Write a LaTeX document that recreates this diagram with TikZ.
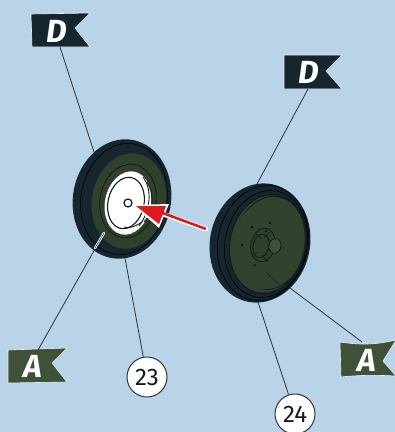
\documentclass[tikz,border=0pt]{standalone}
\usepackage{fontspec}
\setmainfont{Fira Sans}
\definecolor{bgc}{HTML}{B9D3E8}
\definecolor{tyre}{HTML}{16262E}
\definecolor{rimg}{HTML}{3F5238}
\definecolor{rimd}{HTML}{2F402D}
\definecolor{ink}{HTML}{15191A}
\definecolor{arrred}{HTML}{DE1A1F}
\tikzset{
  flagd/.style={fill=tyre,draw=white!70!bgc,line width=.6pt},
  flaga/.style={fill=rimg,draw=white!70!bgc,line width=.6pt},
  flagtext/.style={text=white,font=\bfseries\itshape\fontsize{32}{32}\selectfont,inner sep=0pt},
  lead/.style={draw=ink!85!bgc,line width=.8pt},
  numc/.style={circle,draw=ink!85!bgc,fill=white,line width=1pt,minimum size=40pt,inner sep=0pt,text=ink,font=\fontsize{24}{24}\selectfont},
  detail/.style={draw=ink,line width=.8pt}
}
\begin{document}
\begin{tikzpicture}[x=1pt,y=-1pt]
\useasboundingbox (0,0) rectangle (395,432);
\fill[bgc] (0,0) rectangle (395,432);
% anchors
\coordinate (d1e) at (60,47);
\coordinate (w1t) at (94,152);
\coordinate (a1e) at (38,350);
\coordinate (w1a) at (104,233);
\coordinate (w1b) at (125,258);
\coordinate (d2e) at (308,89);
\coordinate (w2t) at (257,184);
\coordinate (w2b) at (258,302);
\coordinate (w2r) at (290,288);
\coordinate (a2e) at (362,342);
% flags
\draw[flagd] (31,14) -- (90,13) -- (75,28) -- (90,47) -- (32,47) -- cycle;
\node[flagtext] (fd1) at (57,31) {D};
\draw[flagd] (284,55) -- (342,55) -- (326,71) -- (342,89) -- (284,89) -- cycle;
\node[flagtext] (fd2) at (309,72) {D};
\draw[flaga] (8,350) -- (67,348) -- (52,363) -- (67,382) -- (8,383) -- cycle;
\node[flagtext] (fa1) at (33,366) {A};
\draw[flaga] (340,342) .. controls (360,345) and (375,345) .. (396,340) -- (383,361) -- (396,376) .. controls (375,375) and (360,375) .. (341,377) -- cycle;
\node[flagtext] (fa2) at (367,360) {A};
% numbered
\node[numc] (n23) at (147,377) {23};
\node[numc] (n24) at (295,414) {24};
% leaders
\draw[lead] (d1e) -- (w1t);
\draw[lead] (a1e) -- (w1a);
\draw[lead] (w1b) -- (n23);
\draw[lead] (d2e) -- (w2t);
\draw[lead] (w2b) -- (n24);
\draw[lead] (w2r) -- (a2e);
% left wheel
\fill[tyre,rotate around={-10:(122,199)}] (122,199) ellipse [x radius=49,y radius=60];
\draw[black,line width=.6pt,rotate around={-10:(124,199)}] (124,199) ellipse [x radius=43,y radius=56];
\fill[rimd,rotate around={-10:(129,201)}] (129,201) ellipse [x radius=37,y radius=48];
\draw[detail,rotate around={-10:(128,201)}] (128,201) ellipse [x radius=28,y radius=37];
\fill[white,rotate around={-12:(128,203)}] (128,203) ellipse [x radius=23,y radius=32];
\draw[detail,line width=1.1pt,rotate around={-12:(126,203)}] (126,203) ellipse [x radius=18,y radius=26];
\draw[detail,line width=.9pt] (143,177) .. controls (153,190) and (150,212) .. (139,226);
\draw[detail,line width=.9pt] (147,182) .. controls (155,195) and (153,212) .. (144,222);
\draw[detail,line width=.9pt] (124,227) .. controls (130,229) and (136,226) .. (142,222);
\draw[detail,line width=1.2pt] (128,203) circle [radius=4];
% pale streak at the leader end
\draw[white!75!bgc,line width=2.4pt,line cap=round] (95,248) -- (104,233);
\draw[lead,line width=.5pt] (95,248) -- (w1a);
% arrow
\coordinate (arrt) at (206,229);
\coordinate (arrh) at (136,206);
\draw[white,line width=4.8pt,line cap=round] (arrt) -- (160,213);
\fill[white,line join=round] (133,205) -- (169,204) -- (159,228) -- cycle;
\draw[arrred,line width=2.6pt] (arrt) -- (160,212);
\fill[arrred] (arrh) -- (166,206) -- (159,224) -- cycle;
% right wheel
\fill[tyre,rotate around={-12:(260,243)}] (260,243) ellipse [x radius=50,y radius=60];
\draw[black,line width=.6pt,rotate around={-12:(263,243)}] (263,243) ellipse [x radius=45,y radius=58];
\draw[black,line width=.6pt,rotate around={-12:(266,244)}] (266,244) ellipse [x radius=41,y radius=54];
\fill[rimd!90!rimg,rotate around={-12:(267,244)}] (267,244) ellipse [x radius=37,y radius=49];
\draw[detail,line width=1pt,rotate around={-12:(268,244)}] (268,244) ellipse [x radius=38,y radius=50];
\draw[detail,line width=.9pt,rotate around={-12:(270,243)}] (270,243) ellipse [x radius=36,y radius=47];
\fill[rimd!90!rimg,rotate around={-12:(265,245)}] (265,245) ellipse [x radius=33,y radius=45];
\draw[detail,fill=rimd,rotate around={-12:(263,245)}] (263,245) ellipse [x radius=12,y radius=17];
\draw[detail,rotate around={-12:(261,246)}] (261,246) ellipse [x radius=8,y radius=12];
\draw[ink,line width=.6pt] (255,233) -- (262,239) (270,232) -- (264,238) (252,256) -- (258,252) (268,262) -- (262,255);
\draw[detail,fill=rimg,rotate around={-12:(275,246)}] (275,246) ellipse [x radius=6,y radius=7.5];
\foreach \p in {(252,227),(270,223),(242,245),(255,265),(266,231)}
  \fill[ink] \p circle [radius=1.5];
\draw[ink,line width=.4pt] (266,272) -- (280,285);
\end{tikzpicture}
\end{document}
